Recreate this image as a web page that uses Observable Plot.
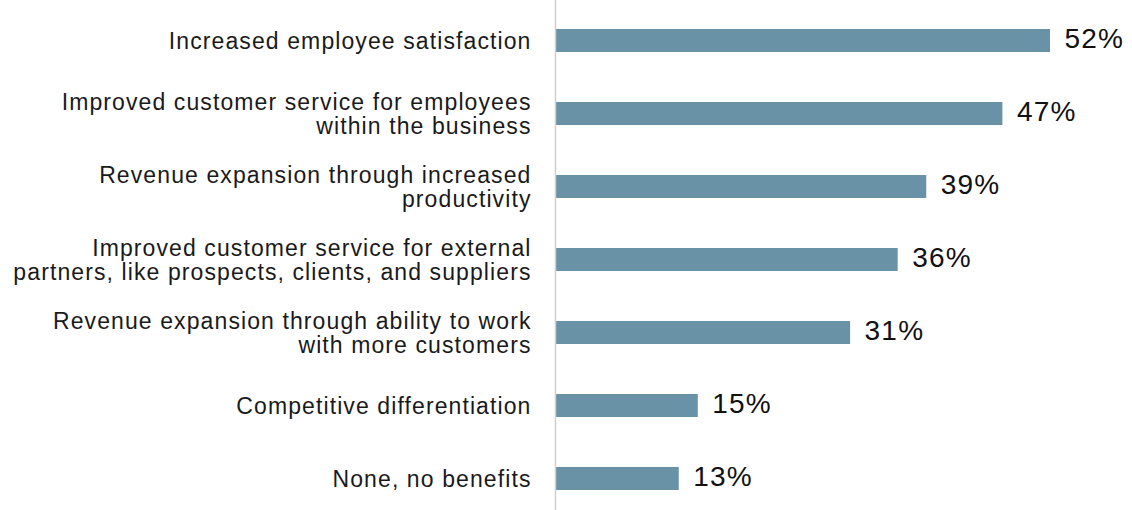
<!DOCTYPE html>
<html>
<head>
<meta charset="utf-8">
<script src="https://cdn.jsdelivr.net/npm/d3@7"></script>
<script src="https://cdn.jsdelivr.net/npm/@observablehq/plot@0.6"></script>
<style>
  html, body { margin: 0; padding: 0; background: #fff; }
  svg { display: block; }
  g[aria-label="y-axis tick label"] text { letter-spacing: 1.1px; }
  g[aria-label="text"] text { letter-spacing: 1.2px; }
</style>
</head>
<body>
<div id="chart"></div>
<script>
const categories = [
  "Increased employee satisfaction",
  "Improved customer service for employees\nwithin the business",
  "Revenue expansion through increased\nproductivity",
  "Improved customer service for external\npartners, like prospects, clients, and suppliers",
  "Revenue expansion through ability to work\nwith more customers",
  "Competitive differentiation",
  "None, no benefits"
];
const values = [52, 47, 39, 36, 31, 15, 13];
const valueLabels = ["52%", "47%", "39%", "36%", "31%", "15%", "13%"];

const data = categories.map((c, i) => ({cat: c, value: values[i], label: valueLabels[i]}));

const chart = Plot.plot({
  width: 1132,
  height: 510,
  marginLeft: 555,
  marginRight: 82,
  marginTop: 0,
  marginBottom: 0,
  style: {fontFamily: "'Liberation Sans', Arial, sans-serif", background: "#fff"},
  x: {domain: [0, 52], axis: null},
  y: {domain: categories, range: [1, 518], padding: 0, axis: null},
  marks: [
    Plot.barX(data, {x: "value", y: "cat", fill: "#6a92a7", insetTop: 25, insetBottom: 25}),
    Plot.ruleX([0], {stroke: "#cfcfcf", strokeWidth: 1.5}),
    Plot.axisY({tickSize: 0, tickPadding: 24, fontSize: 23, lineHeight: 1.04, fill: "#1a1a1a", label: null, textAnchor: "end"}),
    Plot.text(data, {x: "value", y: "cat", text: "label", dx: 14, dy: -2, textAnchor: "start", fontSize: 28, fill: "#111"})
  ]
});
document.getElementById("chart").appendChild(chart);
</script>
</body>
</html>
